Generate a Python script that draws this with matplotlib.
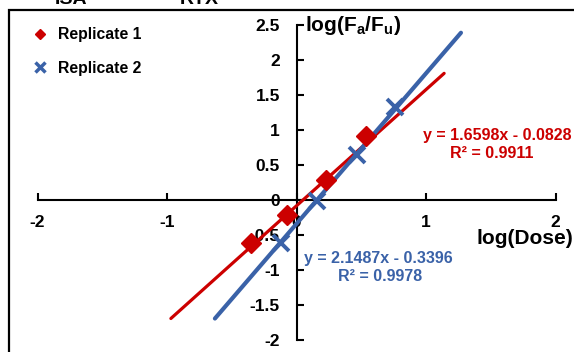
import matplotlib
matplotlib.use("Agg")
import matplotlib.pyplot as plt
from matplotlib.lines import Line2D
from matplotlib.patches import Rectangle
import numpy as np

plt.rcParams['font.family'] = ['Liberation Sans', 'DejaVu Sans']
plt.rcParams['font.weight'] = 'bold'
plt.rcParams['mathtext.fontset'] = 'custom'
plt.rcParams['mathtext.rm'] = 'Liberation Sans:bold'
plt.rcParams['mathtext.it'] = 'Liberation Sans:bold'
plt.rcParams['mathtext.bf'] = 'Liberation Sans:bold'

# Data
rep1_x = [-0.35, -0.07, 0.23, 0.54]
rep1_y = [-0.62, -0.22, 0.29, 0.91]
rep2_x = [-0.12, 0.16, 0.47, 0.76]
rep2_y = [-0.61, -0.01, 0.65, 1.33]
fit1_slope, fit1_icpt = 1.6598, -0.0828
fit2_slope, fit2_icpt = 2.1487, -0.3396
fit1_range = [-0.97, 1.14]
fit2_range = [-0.63, 1.27]
eq1_lines = ["y = 1.6598x - 0.0828", "R² = 0.9911"]
eq2_lines = ["y = 2.1487x - 0.3396", "R² = 0.9978"]
xticks = [-2, -1, 0, 1, 2]
yticks = [-2, -1.5, -1, -0.5, 0, 0.5, 1, 1.5, 2, 2.5]
series_names = ["Replicate 1", "Replicate 2"]

RED = '#CC0000'
BLUE = '#3A62A8'

W, H = 574, 352
fig = plt.figure(figsize=(W / 100, H / 100), dpi=100)

def fx(px):
    return px / W

def fy(py):
    return 1 - py / H

ax = fig.add_axes([fx(37.5), fy(340), fx(555.5) - fx(37.5), fy(25) - fy(340)])
ax.set_xlim(-2, 2)
ax.set_ylim(-2, 2.5)
ax.patch.set_alpha(0)

for s in ['top', 'right']:
    ax.spines[s].set_visible(False)
ax.spines['left'].set_position(('data', 0))
ax.spines['bottom'].set_position(('data', 0))
ax.spines['left'].set_linewidth(1.5)
ax.spines['bottom'].set_linewidth(1.5)

ax.set_xticks(xticks)
ax.set_yticks(yticks)
ax.set_xticklabels([f"{v:g}" for v in xticks])
ax.set_yticklabels([f"{v:g}" for v in yticks])
ax.tick_params(axis='x', direction='in', length=5, width=1.5, pad=11, labelsize=12.5)
ax.tick_params(axis='y', direction='in', length=5, width=1.5, pad=12, labelsize=12.5)
for lab in ax.get_xticklabels() + ax.get_yticklabels():
    lab.set_fontweight('bold')

# trend lines
xs1 = np.array(fit1_range)
xs2 = np.array(fit2_range)
ax.plot(xs1, fit1_slope * xs1 + fit1_icpt, color=RED, lw=2.3, solid_capstyle='round', zorder=3, clip_on=False)
ax.plot(xs2, fit2_slope * xs2 + fit2_icpt, color=BLUE, lw=3.0, solid_capstyle='round', zorder=3, clip_on=False)

# points
ax.plot(rep1_x, rep1_y, linestyle='none', marker='D', markersize=10, color=RED, zorder=4)
ax.plot(rep2_x, rep2_y, linestyle='none', marker='x', markersize=11, mew=2.8, color=BLUE, zorder=4)

# equations
ax.text((497 - 296.5) / 129.5, (199.5 - 139) / 70.25, eq1_lines[0], color=RED, fontsize=11.5,
        fontweight='bold', ha='center', va='baseline')
ax.text((492 - 296.5) / 129.5, (199.5 - 157) / 70.25, eq1_lines[1], color=RED, fontsize=11.5,
        fontweight='bold', ha='center', va='baseline')
ax.text((378 - 296.5) / 129.5, (199.5 - 263) / 70.25, eq2_lines[0], color=BLUE, fontsize=11.5,
        fontweight='bold', ha='center', va='baseline')
ax.text((380 - 296.5) / 129.5, (199.5 - 281) / 70.25, eq2_lines[1], color=BLUE, fontsize=11.5,
        fontweight='bold', ha='center', va='baseline')

# axis titles
ax.text((477 - 296.5) / 129.5, (199.5 - 244) / 70.25, "log(Dose)", fontsize=15,
        fontweight='bold', ha='left', va='baseline', clip_on=False)
ax.text((305 - 296.5) / 129.5, (199.5 - 30) / 70.25, r"log(F$_{a}$/F$_{u}$)", fontsize=15,
        fontweight='bold', ha='left', va='baseline', clip_on=False)

# legend
handles = [
    Line2D([], [], linestyle='none', marker='D', markersize=5.5, color=RED),
    Line2D([], [], linestyle='none', marker='x', markersize=6.5, mew=2.5, color=BLUE),
]
leg = fig.legend(handles, series_names, loc='upper left', bbox_to_anchor=(fx(34), fy(27)),
                 frameon=False, prop={'weight': 'bold', 'size': 11.3}, handlelength=0.8,
                 handletextpad=0.75, labelspacing=1.2, borderpad=0, borderaxespad=0)

# outer chart frame (cut off at right/bottom)
fig.add_artist(Rectangle((fx(8.5), fy(400)), fx(700), fy(10) - fy(400), transform=fig.transFigure,
                         fill=False, edgecolor='black', lw=1.6))

# cut-off panel titles at top (partially visible in the reference)
fig.text(fx(55), fy(4), "ISA", fontsize=14, fontweight='bold', ha='left', va='baseline')
fig.text(fx(180), fy(4), "RTX", fontsize=14, fontweight='bold', ha='left', va='baseline')

fig.savefig("out.png", dpi=100)
